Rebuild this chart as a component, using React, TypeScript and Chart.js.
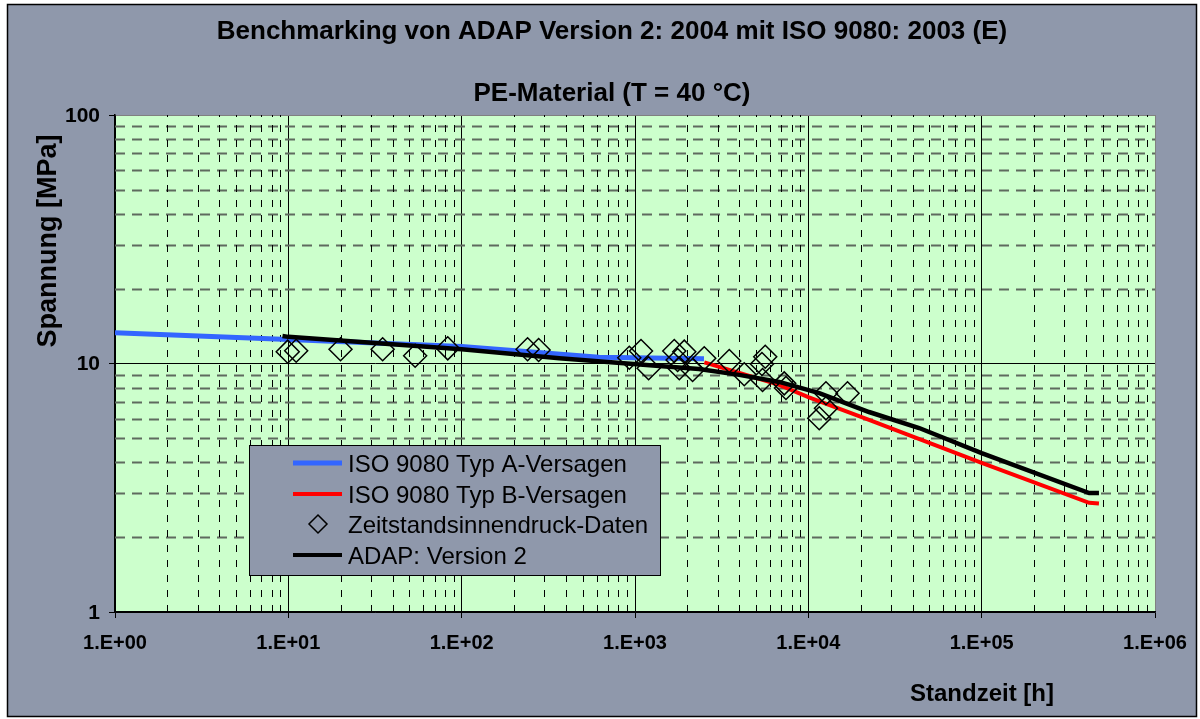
import { useEffect, useRef } from 'react';
import { Chart, registerables } from 'chart.js';

Chart.register(...registerables);

// ---------- texts ----------
const titleText = 'Benchmarking von ADAP Version 2: 2004 mit ISO 9080: 2003 (E)';
const subtitleText = 'PE-Material (T = 40 °C)';
const xAxisTitle = 'Standzeit [h]';
const yAxisTitle = 'Spannung [MPa]';
const legendLabels = [
  'ISO 9080 Typ A-Versagen',
  'ISO 9080 Typ B-Versagen',
  'Zeitstandsinnendruck-Daten',
  'ADAP: Version 2',
];

// ---------- ticks ----------
const xTickValues = [1, 10, 100, 1000, 10000, 100000, 1000000];
const xTickLabels = ['1.E+00', '1.E+01', '1.E+02', '1.E+03', '1.E+04', '1.E+05', '1.E+06'];
const yTickValues = [1, 10, 100];
const yTickLabels = ['1', '10', '100'];
const minorFactors = [2, 3, 4, 5, 6, 7, 8, 9];

// ---------- data ----------
const typAX = [1, 10, 100, 620, 2500];
const typAY = [13.3, 12.5, 11.7, 10.6, 10.45];

const typBX = [2512, 6790, 10000, 22400, 100000, 417000, 475000];
const typBY = [10.1, 8.2, 7.33, 5.93, 3.98, 2.75, 2.73];

const adapX = [9.25, 10, 100, 366, 1380, 2340, 3990, 6790, 11560, 22400, 43600, 100000, 417000, 475000];
const adapY = [12.9, 12.8, 11.4, 10.5, 9.77, 9.5, 9.0, 8.43, 7.6, 6.38, 5.5, 4.36, 3.01, 3.01];

const dataX = [9.92, 11.1, 20.0, 35.0, 53.9, 83.1, 240, 278, 927, 1083, 1198, 1685, 1924, 1761, 1801, 2149, 2509, 3498, 4268, 5641, 5401, 5443, 7261, 7430, 12640, 16830, 12640, 11560];
const dataY = [11.16, 11.26, 11.41, 11.41, 10.75, 11.51, 11.41, 11.33, 10.55, 11.23, 9.57, 11.23, 11.16, 10.33, 9.57, 9.41, 10.49, 10.23, 9.05, 10.65, 9.95, 8.58, 8.32, 7.97, 7.59, 7.59, 6.6, 6.02];

const toPoints = (xs: number[], ys: number[]) => xs.map((x, i) => ({ x, y: ys[i] }));

const FONT = '"Liberation Sans", Arial, sans-serif';
const FRAME = '#8F98AB';
const PLOT_BG = '#CCFFCC';
const BLUE = '#3366FF';
const RED = '#FF0000';

function diamond(ctx: CanvasRenderingContext2D, x: number, y: number, r: number) {
  ctx.beginPath();
  ctx.moveTo(x, y - r);
  ctx.lineTo(x + r, y);
  ctx.lineTo(x, y + r);
  ctx.lineTo(x - r, y);
  ctx.closePath();
  ctx.stroke();
}

const decor = {
  id: 'decor',
  beforeDraw(chart: any) {
    const { ctx, chartArea: a, width, height } = chart;
    ctx.save();
    ctx.fillStyle = '#ffffff';
    ctx.fillRect(0, 0, width, height);
    ctx.fillStyle = FRAME;
    ctx.fillRect(7, 4, 1190, 713);
    ctx.strokeStyle = '#000';
    ctx.lineWidth = 1.5;
    ctx.strokeRect(7.5, 4.5, 1189, 712);
    ctx.fillStyle = PLOT_BG;
    ctx.fillRect(a.left, a.top, a.right - a.left, a.bottom - a.top);
    ctx.restore();
  },
  beforeDatasetsDraw(chart: any) {
    const { ctx, chartArea: a, scales } = chart;
    const xs = scales.x;
    const ys = scales.y;
    ctx.save();
    ctx.beginPath();
    ctx.rect(a.left, a.top, a.right - a.left, a.bottom - a.top);
    ctx.clip();
    // horizontal minor dashed
    ctx.strokeStyle = '#5E6A5E';
    ctx.lineWidth = 2;
    ctx.setLineDash([10, 7]);
    for (let d = 0; d < yTickValues.length - 1; d++) {
      for (const f of minorFactors) {
        const py = Math.round(ys.getPixelForValue(yTickValues[d] * f)) + 0.5;
        ctx.beginPath();
        ctx.moveTo(a.left, py);
        ctx.lineTo(a.right, py);
        ctx.stroke();
      }
    }
    // vertical minor dashed
    ctx.strokeStyle = '#000';
    ctx.lineWidth = 1;
    ctx.setLineDash([7, 8]);
    for (let d = 0; d < xTickValues.length - 1; d++) {
      for (const f of minorFactors) {
        const px = Math.round(xs.getPixelForValue(xTickValues[d] * f)) + 0.5;
        ctx.beginPath();
        ctx.moveTo(px, a.bottom);
        ctx.lineTo(px, a.top);
        ctx.stroke();
      }
    }
    ctx.restore();
  },
  afterDraw(chart: any) {
    const { ctx, scales } = chart;
    const xs = scales.x;
    const ys = scales.y;
    ctx.save();
    ctx.fillStyle = '#000';
    // titles
    ctx.textAlign = 'center';
    ctx.textBaseline = 'alphabetic';
    ctx.font = `bold 26px ${FONT}`;
    ctx.fillText(titleText, 612, 39);
    ctx.fillText(subtitleText, 612, 101);
    // x tick labels
    ctx.font = `bold 20px ${FONT}`;
    ctx.textBaseline = 'middle';
    xTickValues.forEach((v, i) => {
      ctx.fillText(xTickLabels[i], xs.getPixelForValue(v), 643);
    });
    // y tick labels
    ctx.textAlign = 'right';
    ctx.font = `bold 21px ${FONT}`;
    yTickValues.forEach((v, i) => {
      ctx.fillText(yTickLabels[i], 100, ys.getPixelForValue(v) + 1);
    });
    // axis titles
    ctx.textAlign = 'center';
    ctx.textBaseline = 'alphabetic';
    ctx.font = `bold 24px ${FONT}`;
    ctx.fillText(xAxisTitle, 982, 701);
    ctx.save();
    ctx.translate(56, 241);
    ctx.rotate(-Math.PI / 2);
    ctx.font = `bold 27px ${FONT}`;
    ctx.fillText(yAxisTitle, 0, 0);
    ctx.restore();

    // legend
    const lx = 249, ly = 445, lw = 411, lh = 130;
    ctx.fillStyle = FRAME;
    ctx.fillRect(lx, ly, lw, lh);
    ctx.strokeStyle = '#000';
    ctx.lineWidth = 1;
    ctx.strokeRect(lx + 0.5, ly + 0.5, lw, lh);
    const rows = [463, 494, 524, 555];
    ctx.lineCap = 'butt';
    ctx.strokeStyle = BLUE;
    ctx.lineWidth = 5;
    ctx.beginPath(); ctx.moveTo(293, rows[0]); ctx.lineTo(342, rows[0]); ctx.stroke();
    ctx.strokeStyle = RED;
    ctx.lineWidth = 4;
    ctx.beginPath(); ctx.moveTo(293, rows[1]); ctx.lineTo(342, rows[1]); ctx.stroke();
    ctx.strokeStyle = '#000';
    ctx.lineWidth = 1.5;
    diamond(ctx, 318, rows[2], 9);
    ctx.lineWidth = 4;
    ctx.beginPath(); ctx.moveTo(293, rows[3]); ctx.lineTo(342, rows[3]); ctx.stroke();
    ctx.fillStyle = '#000';
    ctx.font = `24px ${FONT}`;
    ctx.textAlign = 'left';
    ctx.textBaseline = 'alphabetic';
    legendLabels.forEach((t, i) => ctx.fillText(t, 348, rows[i] + 8.6));
    ctx.restore();
  },
};

export default function App() {
  const ref = useRef<HTMLCanvasElement | null>(null);
  useEffect(() => {
    document.body.style.margin = '0';
    const canvas = ref.current;
    if (!canvas) return;
    const chart = new Chart(canvas, {
      type: 'line',
      data: {
        datasets: [
          {
            label: legendLabels[0],
            data: toPoints(typAX, typAY),
            borderColor: BLUE,
            borderWidth: 5,
            pointRadius: 0,
            tension: 0,
            order: 4,
          },
          {
            label: legendLabels[1],
            data: toPoints(typBX, typBY),
            borderColor: RED,
            borderWidth: 4,
            pointRadius: 0,
            tension: 0,
            order: 3,
          },
          {
            label: legendLabels[2],
            data: toPoints(dataX, dataY),
            showLine: false,
            pointStyle: 'rectRot',
            pointRadius: 11.5,
            pointBorderWidth: 1.5,
            pointBorderColor: '#000',
            pointBackgroundColor: 'rgba(0,0,0,0)',
            order: 2,
          },
          {
            label: legendLabels[3],
            data: toPoints(adapX, adapY),
            borderColor: '#000',
            borderWidth: 4.5,
            pointRadius: 0,
            tension: 0,
            order: 1,
          },
        ],
      },
      options: {
        animation: false,
        responsive: false,
        maintainAspectRatio: false,
        devicePixelRatio: 1,
        layout: { padding: { left: 0, top: 115, right: 45, bottom: 0 } },
        plugins: { legend: { display: false }, title: { display: false }, tooltip: { enabled: false } },
        scales: {
          x: {
            type: 'logarithmic',
            min: 1,
            max: 1000000,
            afterBuildTicks: (s: any) => { s.ticks = xTickValues.map((v) => ({ value: v })); },
            afterFit: (s: any) => { s.height = 107; },
            ticks: { display: false },
            grid: {
              color: (c: any) => (c.tick && c.tick.value === 1000000 ? '#808080' : '#000'),
              lineWidth: 1,
              tickColor: '#000',
              tickLength: 6,
            },
            border: { display: true, color: '#000', width: 1.5 },
          },
          y: {
            type: 'logarithmic',
            min: 1,
            max: 100,
            afterBuildTicks: (s: any) => { s.ticks = yTickValues.map((v) => ({ value: v })); },
            afterFit: (s: any) => { s.width = 115; },
            ticks: { display: false },
            grid: {
              color: (c: any) => (c.tick && c.tick.value === 100 ? '#808080' : '#000'),
              lineWidth: 1,
              tickColor: '#000',
              tickLength: 6,
            },
            border: { display: true, color: '#000', width: 1.5 },
          },
        },
      },
      plugins: [decor],
    } as any);
    return () => chart.destroy();
  }, []);
  return (
    <div style={{ width: 1200, height: 719 }}>
      <canvas ref={ref} width={1200} height={719} style={{ display: 'block' }} />
    </div>
  );
}
